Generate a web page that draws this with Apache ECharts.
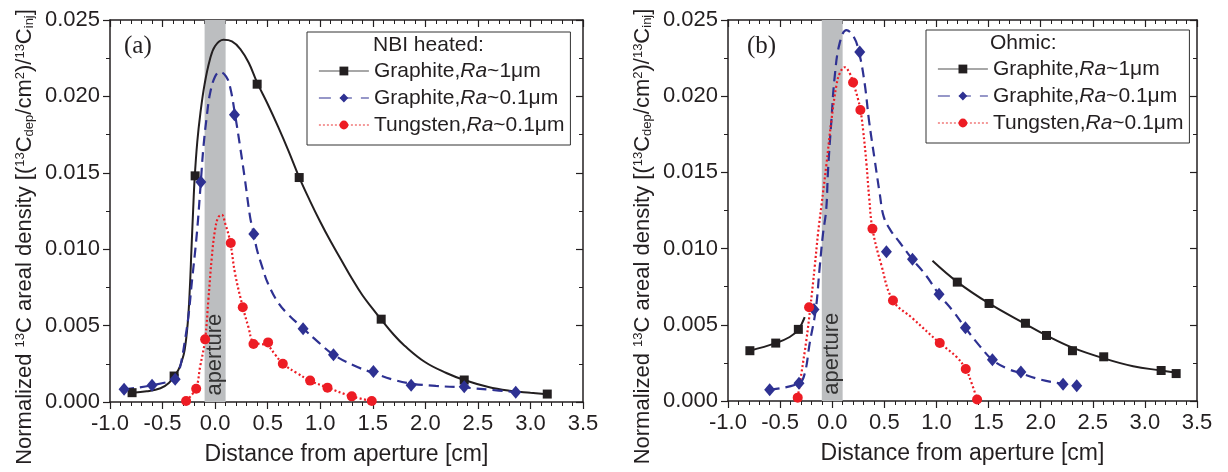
<!DOCTYPE html>
<html><head><meta charset="utf-8">
<script src="https://cdn.jsdelivr.net/npm/echarts@6/dist/echarts.min.js"></script>
<style>html,body{margin:0;padding:0;background:#fff}#c{width:1228px;height:472px}</style>
</head><body><div id="c"></div>
<script>
// ---------- data ----------
const xMin = -1.0, xMax = 3.5, xStep = 0.5;
const yMin = 0, yMax = 0.025, yStep = 0.005;
const seriesNames = ['Graphite,Ra~1μm', 'Graphite,Ra~0.1μm', 'Tungsten,Ra~0.1μm'];
const legendTitles = ['NBI heated:', 'Ohmic:'];
const panelLabels = ['(a)', '(b)'];
const xTitle = 'Distance from aperture [cm]';
const apertureText = 'aperture';
const apertureRange = [-0.1, 0.1];
const apertureLabelPos = [[0.0, 0.0031], [0.0, 0.0031]];

// Panel (a) NBI heated: measured points
const aG1Marks = [[-0.79,0.00061],[-0.39,0.0017],[-0.19,0.0148],[0.40,0.0208],[0.80,0.01469],[1.58,0.00542],[2.37,0.00144],[3.16,0.00052]];
const aG01Marks = [[-0.866,0.00083],[-0.60,0.00109],[-0.38,0.00149],[-0.136,0.0144],[0.184,0.0188],[0.368,0.011],[0.837,0.0048],[1.126,0.0031],[1.506,0.002],[1.865,0.0011],[2.37,0.001],[2.86,0.00064]];
const aWMarks = [[-0.276,0.00007],[-0.18,0.00087],[-0.095,0.0041],[0.149,0.0104],[0.263,0.0062],[0.365,0.0038],[0.504,0.0039],[0.644,0.0025],[0.904,0.0014],[1.069,0.00094],[1.30,0.00037],[1.49,0.00007]];
// Panel (a) fitted curves
const aG1Curve = [[-0.787,0.00061],[-0.65,0.0007],[-0.52,0.0009],[-0.44,0.00125],[-0.39,0.0017],[-0.35,0.0021],[-0.32,0.0026],[-0.29,0.0034],[-0.26,0.0052],[-0.24,0.0075],[-0.225,0.0100],[-0.21,0.0124],[-0.195,0.0146],[-0.17,0.0170],[-0.14,0.0189],[-0.10,0.0208],[-0.05,0.0224],[0.0,0.0233],[0.08,0.0237],[0.16,0.0236],[0.24,0.0231],[0.32,0.0222],[0.40,0.0209],[0.50,0.0195],[0.60,0.0180],[0.70,0.0164],[0.80,0.0147],[0.90,0.0132],[1.0,0.0118],[1.1,0.0105],[1.2,0.0093],[1.3,0.0081],[1.4,0.0070],[1.5,0.0061],[1.58,0.0054],[1.7,0.0044],[1.8,0.0037],[2.0,0.0026],[2.2,0.0019],[2.37,0.00144],[2.6,0.00098],[2.8,0.00074],[3.0,0.0006],[3.16,0.0005]];
const aG01Curve = [[-0.866,0.00083],[-0.602,0.00109],[-0.381,0.0015],[-0.35,0.0019],[-0.32,0.0027],[-0.29,0.0039],[-0.254,0.0056],[-0.222,0.0078],[-0.174,0.011],[-0.136,0.0144],[-0.111,0.0167],[-0.079,0.0187],[-0.048,0.0202],[0.0,0.0213],[0.048,0.0216],[0.105,0.0213],[0.143,0.0206],[0.19,0.0188],[0.238,0.0167],[0.285,0.0145],[0.333,0.0121],[0.368,0.011],[0.397,0.0100],[0.45,0.0088],[0.5,0.0078],[0.6,0.0065],[0.7,0.0057],[0.84,0.0048],[0.968,0.0040],[1.126,0.0031],[1.316,0.0024],[1.506,0.0019],[1.7,0.00145],[1.872,0.0012],[2.1,0.00105],[2.363,0.00095],[2.617,0.0008],[2.871,0.00064]];
const aWCurve = [[-0.276,0.00007],[-0.184,0.00087],[-0.143,0.0023],[-0.095,0.0041],[-0.064,0.0067],[-0.031,0.0095],[0.0,0.0113],[0.031,0.0121],[0.064,0.01225],[0.095,0.0117],[0.143,0.0105],[0.19,0.0084],[0.264,0.0062],[0.317,0.0049],[0.364,0.0039],[0.43,0.0038],[0.498,0.0037],[0.571,0.0031],[0.644,0.0025],[0.777,0.0019],[0.904,0.0014],[1.069,0.00094],[1.30,0.00037],[1.49,0.00007]];

// Panel (b) Ohmic: measured points
const bG1Marks = [[-0.79,0.0033],[-0.542,0.0038],[-0.325,0.0047],[1.20,0.0078],[1.505,0.0064],[1.854,0.0051],[2.056,0.0043],[2.305,0.0033],[2.605,0.0029],[3.156,0.002],[3.30,0.0018]];
const bG01Marks = [[-0.60,0.00074],[-0.319,0.00116],[-0.175,0.006],[0.264,0.0229],[0.52,0.0098],[0.77,0.0093],[1.025,0.007],[1.278,0.0048],[1.537,0.0027],[1.81,0.0019],[2.215,0.0011],[2.346,0.001]];
const bWMarks = [[-0.331,0.00022],[-0.222,0.00615],[0.20,0.0209],[0.27,0.0191],[0.386,0.0113],[0.583,0.0066],[1.032,0.0038],[1.281,0.0021],[1.39,0.0001]];
// Panel (b) fitted curves
const bG1CurveLeft = [[-0.792,0.0033],[-0.542,0.0038],[-0.408,0.0042],[-0.324,0.0047],[-0.264,0.0055]];
const bG1CurveRight = [[0.962,0.0092],[1.202,0.0078],[1.505,0.0064],[1.854,0.00505],[2.056,0.0043],[2.305,0.0035],[2.606,0.0028],[2.887,0.00228],[3.156,0.002],[3.303,0.00185]];
const bG01Curve = [[-0.60,0.00074],[-0.319,0.00116],[-0.264,0.0018],[-0.216,0.0038],[-0.158,0.006],[-0.12,0.0088],[-0.088,0.011],[-0.058,0.01253],[-0.04,0.01516],[-0.008,0.0184],[0.024,0.0213],[0.072,0.0235],[0.136,0.02434],[0.206,0.0239],[0.257,0.0229],[0.312,0.0208],[0.353,0.0184],[0.408,0.0158],[0.456,0.0136],[0.494,0.0121],[0.56,0.0112],[0.648,0.0104],[0.77,0.0093],[0.904,0.0082],[1.025,0.007],[1.159,0.0059],[1.278,0.0048],[1.416,0.0036],[1.537,0.0027],[1.672,0.00215],[1.809,0.00182],[1.992,0.00142],[2.215,0.00112],[2.346,0.001]];
const bWCurve = [[-0.331,0.00022],[-0.296,0.0018],[-0.248,0.004],[-0.209,0.0062],[-0.168,0.0088],[-0.136,0.011],[-0.104,0.0128],[-0.056,0.0155],[-0.008,0.0184],[0.04,0.0207],[0.072,0.0215],[0.12,0.0219],[0.168,0.0215],[0.2,0.0209],[0.248,0.0198],[0.271,0.0191],[0.296,0.0178],[0.328,0.0156],[0.355,0.0133],[0.386,0.0113],[0.472,0.0089],[0.583,0.0066],[0.775,0.0054],[1.032,0.0038],[1.192,0.0029],[1.281,0.0021],[1.336,0.0012],[1.39,0.0001]];

// ---------- styling ----------
const FONT = 'Liberation Sans, Arial, sans-serif';
const TXT = '#231f20';
const C_BLACK = '#231f20', C_BLUE = '#2e3192', C_RED = '#ed1c24', C_BAND = '#bcbec0';
const styles = [
  {color: C_BLACK, symbol: 'rect', size: 9, line: {type: 'solid', width: 2}},
  {color: C_BLUE, symbol: 'diamond', size: [11, 13], line: {type: [10, 6], width: 2.2}},
  {color: C_RED, symbol: 'circle', size: 10, line: {type: [2, 2.4], width: 2.2}}
];
const yName = '{n|Normalized }{s|13}{n|C areal density [(}{s|13}{n|C}{b|dep}{n|/cm}{s|2}{n|)/}{s|13}{n|C}{b|inj}{n|]}';

const grids = [
  {left: 110, top: 20, width: 473, height: 382},
  {left: 728, top: 20, width: 469, height: 381}
];

function mkX(gi, top) {
  return {
    type: 'value', gridIndex: gi, min: xMin, max: xMax, interval: xStep,
    position: top ? 'top' : 'bottom',
    axisLine: {show: true, onZero: false, lineStyle: {color: TXT, width: 1.5}},
    axisTick: {show: true, inside: !!top, length: 7, lineStyle: {color: TXT, width: 1.2}},
    minorTick: {show: true, splitNumber: 5, length: 4, lineStyle: {color: TXT, width: 1}},
    splitLine: {show: false}, minorSplitLine: {show: false},
    axisLabel: {show: !top, fontSize: 22, fontFamily: FONT, color: TXT, margin: 11,
      formatter: v => v.toFixed(1)},
    name: top ? '' : xTitle, nameLocation: 'middle', nameGap: 41,
    nameTextStyle: {fontSize: 23, fontFamily: FONT, color: TXT}
  };
}
function mkY(gi, right) {
  return {
    type: 'value', gridIndex: gi, min: yMin, max: yMax, interval: yStep,
    position: right ? 'right' : 'left',
    axisLine: {show: true, onZero: false, lineStyle: {color: TXT, width: 1.5}},
    axisTick: {show: true, inside: !!right, length: 7, lineStyle: {color: TXT, width: 1.2}},
    minorTick: {show: true, splitNumber: 2, length: 4, lineStyle: {color: TXT, width: 1}},
    splitLine: {show: false}, minorSplitLine: {show: false},
    axisLabel: {show: !right, fontSize: 22, fontFamily: FONT, color: TXT, margin: 10,
      formatter: v => v.toFixed(3)},
    name: right ? '' : yName, nameLocation: 'middle', nameGap: 74,
    nameTextStyle: {fontSize: 22, fontFamily: FONT, color: TXT, padding: [0, 52, 0, 0], rich: {
      n: {fontSize: 22, fontFamily: FONT, color: TXT},
      s: {fontSize: 13, fontFamily: FONT, color: TXT, verticalAlign: 'top'},
      b: {fontSize: 13, fontFamily: FONT, color: TXT, verticalAlign: 'bottom'}
    }}
  };
}

const series = [];
function addCurve(panel, si, data) {
  const st = styles[si];
  series.push({
    type: 'line', name: seriesNames[si], xAxisIndex: panel * 2, yAxisIndex: panel * 2,
    data: data, showSymbol: false, symbol: st.symbol, symbolSize: st.size,
    smooth: 0.4, silent: true, z: 3,
    lineStyle: Object.assign({color: st.color}, st.line), itemStyle: {color: st.color}
  });
}
function addMarks(panel, si, data) {
  const st = styles[si];
  series.push({
    type: 'scatter', name: 'm' + panel + si, xAxisIndex: panel * 2, yAxisIndex: panel * 2,
    data: data, symbol: st.symbol, symbolSize: st.size, silent: true, z: 4,
    itemStyle: {color: st.color, opacity: 1}
  });
}
[0, 1].forEach(p => {
  series.push({
    type: 'line', name: 'band' + p, xAxisIndex: p * 2, yAxisIndex: p * 2,
    data: [], silent: true, z: 1, showSymbol: false,
    markArea: {silent: true, itemStyle: {color: C_BAND, opacity: 1}, label: {show: false},
      data: [[{xAxis: apertureRange[0]}, {xAxis: apertureRange[1]}]]}
  });
});
addCurve(0, 0, aG1Curve); addCurve(0, 1, aG01Curve); addCurve(0, 2, aWCurve);
addMarks(0, 0, aG1Marks); addMarks(0, 1, aG01Marks); addMarks(0, 2, aWMarks);
addCurve(1, 0, bG1CurveLeft); addCurve(1, 0, bG1CurveRight); addCurve(1, 1, bG01Curve); addCurve(1, 2, bWCurve);
addMarks(1, 0, bG1Marks); addMarks(1, 1, bG01Marks); addMarks(1, 2, bWMarks);

const legendItemStyles = [
  {color: '#8a8a8a', width: 1.3, type: 'solid'},
  {color: C_BLUE, width: 1.2, type: [12, 9]},
  {color: '#f49a9a', width: 1.8, type: [2, 2]}
];
function mkLegend(left, top) {
  return {
    orient: 'vertical', left: left, top: top, itemWidth: 50, itemHeight: 11, itemGap: 5,
    padding: [28, 6, 9, 11], borderColor: '#333', borderWidth: 1, backgroundColor: '#fff',
    selectedMode: false,
    data: seriesNames.map((n, i) => ({name: n, lineStyle: legendItemStyles[i]})),
    formatter: n => n.replace('Ra', '{i|Ra}'),
    textStyle: {fontSize: 21, fontFamily: FONT, color: TXT, lineHeight: 22,
      rich: {i: {fontSize: 21, fontFamily: FONT, color: TXT, fontStyle: 'italic'}}}
  };
}

const option = {
  animation: false,
  backgroundColor: '#fff',
  grid: grids.map(g => Object.assign({containLabel: false, outerBoundsMode: 'none'}, g)),
  xAxis: [mkX(0, false), mkX(0, true), mkX(1, false), mkX(1, true)],
  yAxis: [mkY(0, false), mkY(0, true), mkY(1, false), mkY(1, true)],
  legend: [mkLegend(307, 32), mkLegend(926, 30)],
  title: [
    {text: legendTitles[0], left: 373, top: 35, padding: 0, z: 10, textStyle: {fontSize: 21, fontWeight: 'normal', fontFamily: FONT, color: TXT}},
    {text: legendTitles[1], left: 990, top: 33, padding: 0, z: 10, textStyle: {fontSize: 21, fontWeight: 'normal', fontFamily: FONT, color: TXT}},
    {text: panelLabels[0], left: 124, top: 34, padding: 0, textStyle: {fontSize: 25, fontWeight: 'normal', fontFamily: 'Liberation Serif, Times New Roman, serif', color: TXT}},
    {text: panelLabels[1], left: 747, top: 34, padding: 0, textStyle: {fontSize: 25, fontWeight: 'normal', fontFamily: 'Liberation Serif, Times New Roman, serif', color: TXT}}
  ],
  series: series
};
const chart = echarts.init(document.getElementById('c'), null, {renderer: 'canvas'});
chart.setOption(option);
// "aperture" labels placed through the axes' own scales
const apGraphics = [0, 1].map(p => {
  const pt = chart.convertToPixel({xAxisIndex: p * 2, yAxisIndex: p * 2}, apertureLabelPos[p]);
  return {type: 'text', x: pt[0], y: pt[1], rotation: Math.PI / 2, z: 5, silent: true,
    style: {text: apertureText, fontSize: 22, fontFamily: FONT, fill: '#333',
      align: 'center', verticalAlign: 'middle'}};
});
chart.setOption({graphic: apGraphics});
</script></body></html>
